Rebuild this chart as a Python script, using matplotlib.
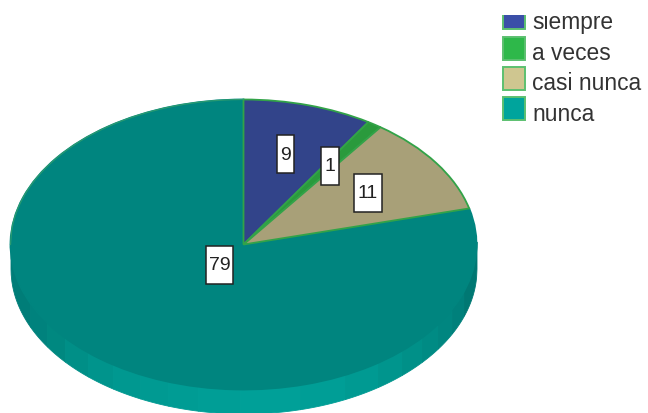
import numpy as np
import matplotlib
matplotlib.use("Agg")
import matplotlib.pyplot as plt
from matplotlib.patches import Rectangle

categories = ["siempre", "a veces", "casi nunca", "nunca"]
values = [9, 1, 11, 79]
top_colors = ["#32448a", "#2a9a3c", "#a8a078", "#00857f"]
swatch_colors = ["#3b4fa8", "#2eb84a", "#cfc690", "#00a49c"]
edge_green = "#32a348"

W, H = 648, 414
CX, CY, RX, RY, DEPTH = 243.5, 245.5, 233, 145, 24

fig = plt.figure(figsize=(W / 100, H / 100), dpi=100)
ax = fig.add_axes([0, 0, 1, 1])

def px(x, y):
    return (x - CX) / RX, (CY - y) / RY

# side wall bands: x boundaries in pixels and shade
side_edges = [10, 30, 47, 65, 88, 113, 140, 168, 198, 240, 300, 345, 378, 402, 422, 438, 452, 464, 477]
side_cols = ["#007d78", "#00827d", "#008880", "#008f87", "#00948c", "#009890", "#009a92", "#009c94",
             "#009e96", "#00a098", "#009e96", "#009a92", "#00958d", "#009088", "#008b84", "#008680",
             "#00807b", "#007873"]
for x0, x1, c in zip(side_edges[:-1], side_edges[1:], side_cols):
    xs = np.linspace(x0, x1, 30)
    u = np.clip((xs - CX) / RX, -1, 1)
    low = -np.sqrt(1 - u**2)
    ax.fill_between(u, low - DEPTH / RY, low + 0.02, color=c, lw=0.6, zorder=1)

wedges, _ = ax.pie(values, colors=top_colors, startangle=90, counterclock=False, radius=1,
                   wedgeprops=dict(edgecolor=edge_green, linewidth=1.3))
for w in wedges[:3]:
    w.set_zorder(3)
wedges[3].set_zorder(2)
wedges[3].set_edgecolor(top_colors[3])

# green highlight on the upper-left rim only
u = np.linspace(-1, 0, 200)
ax.plot(u, np.sqrt(1 - u**2), color="#2a9a70", lw=0.9, zorder=3)
ax.set_aspect("auto")
ax.set_xlim((0 - CX) / RX, (W - CX) / RX)
ax.set_ylim((CY - H) / RY, CY / RY)
ax.set_axis_off()

# value labels
label_pos = [(285.5, 155), (330, 166.5), (368, 193.5), (219.5, 265.5)]
label_w = [17, 18, 28, 27]
label_h = 38
for v, (lx, ly), w in zip(values, label_pos, label_w):
    x0, y0 = px(lx - w / 2, ly + label_h / 2)
    x1, y1 = px(lx + w / 2, ly - label_h / 2)
    ax.add_patch(Rectangle((x0, y0), x1 - x0, y1 - y0, fc="white", ec="#222222", lw=1.1, zorder=5))
    tx, ty = px(lx, ly)
    ax.text(tx, ty, str(v), ha="center", va="center", fontsize=14, color="#222222",
            family="Liberation Sans", zorder=6)

# legend, clipped at the top as in the source picture
clip = Rectangle(px(495, 414), 160 / RX, (414 - 16) / RY, transform=ax.transData)
swatch_y = [18.5, 49, 79.5, 109.5]
base_y = [28.5, 59.5, 90.5, 121]
for name, c, y, b in zip(categories, swatch_colors, swatch_y, base_y):
    x0, y0 = px(503, y + 11.5)
    x1, y1 = px(525, y - 11.5)
    r = Rectangle((x0, y0), x1 - x0, y1 - y0, fc=c, ec="#5cc070", lw=1.4, zorder=5)
    ax.add_patch(r)
    r.set_clip_path(clip)
    tx, ty = px(532, b)
    t = ax.text(tx, ty, name, ha="left", va="baseline", fontsize=16.4, color="#333333",
                family="Liberation Sans", zorder=6, clip_on=True)
    t.set_clip_path(clip)

fig.savefig("out.png", dpi=100)
